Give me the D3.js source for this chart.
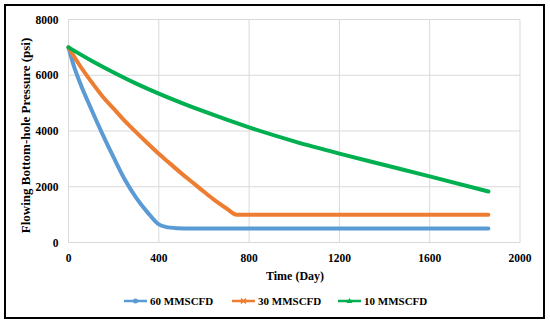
<!DOCTYPE html>
<html>
  <head>
    <style>
      body { margin: 0; background: #ffffff; }
      text { font-family: "Liberation Serif", "Times New Roman", serif; font-weight: bold; fill: #000; }
    </style>
  </head>
  <body>
    <svg id="chart"></svg>
  </body>
</html>

<script src="https://d3js.org/d3.v7.min.js"></script>

<script>
  const WIDTH = 550
  const HEIGHT = 324

  // data: [day, psi]
  const seriesNames = ['60 MMSCFD', '30 MMSCFD', '10 MMSCFD']
  const seriesColors = ['#5B9BD5', '#ED7D31', '#00B050']
  const rate60 = [[0,7000],[25,6300],[50,5750],[100,4800],[150,3900],[200,3050],[250,2250],
                  [300,1600],[350,1080],[400,650],[430,560],[480,515],[550,500],[1860,500]]
  const rate30 = [[0,7000],[50,6350],[100,5780],[150,5250],[200,4800],[250,4350],[300,3950],
                  [350,3560],[400,3180],[450,2830],[500,2480],[550,2150],[600,1820],[650,1500],
                  [700,1220],[745,1000],[1860,1000]]
  const rate10 = [[0,7000],[100,6530],[200,6100],[300,5700],[400,5340],[500,5010],[600,4700],
                  [800,4130],[1000,3630],[1200,3190],[1400,2780],[1600,2370],[1860,1830]]
  const xTicks = [0, 400, 800, 1200, 1600, 2000]
  const yTicks = [0, 2000, 4000, 6000, 8000]

  let svg = d3.select('#chart')
    .attr('width', WIDTH)
    .attr('height', HEIGHT)

  let x = d3.scaleLinear().domain([0, 2000]).range([68.5, 520])
  let y = d3.scaleLinear().domain([0, 8000]).range([242.5, 19.5])

  // outer frame
  svg.append('rect')
    .attr('x', 5).attr('y', 5)
    .attr('width', 539).attr('height', 313)
    .attr('fill', 'none')
    .attr('stroke', '#000')
    .attr('stroke-width', 2)

  // grid
  svg.selectAll('.vgrid')
    .data(xTicks)
    .enter()
    .append('line')
    .attr('x1', d => x(d)).attr('x2', d => x(d))
    .attr('y1', y(8000)).attr('y2', y(0))
    .attr('stroke', '#D9D9D9')
    .attr('stroke-width', 1)
  svg.selectAll('.hgrid')
    .data(yTicks)
    .enter()
    .append('line')
    .attr('x1', x(0)).attr('x2', x(2000))
    .attr('y1', d => y(d)).attr('y2', d => y(d))
    .attr('stroke', '#D9D9D9')
    .attr('stroke-width', 1)

  // tick labels
  svg.selectAll('.xlab')
    .data(xTicks)
    .enter()
    .append('text')
    .attr('x', d => x(d))
    .attr('y', 262)
    .attr('text-anchor', 'middle')
    .style('font-size', '11.5px')
    .text(d => d)
  svg.selectAll('.ylab')
    .data(yTicks)
    .enter()
    .append('text')
    .attr('x', 58.5)
    .attr('y', d => y(d) + 4)
    .attr('text-anchor', 'end')
    .style('font-size', '11.5px')
    .text(d => d)

  // axis titles
  svg.append('text')
    .attr('x', 295).attr('y', 279.5)
    .attr('text-anchor', 'middle')
    .style('font-size', '12px')
    .text('Time (Day)')
  svg.append('text')
    .attr('transform', 'translate(30,135.5) rotate(-90)')
    .attr('text-anchor', 'middle')
    .style('font-size', '13px')
    .text('Flowing Bottom-hole Pressure (psi)')

  // curves
  let line = d3.line()
    .x(d => x(d[0]))
    .y(d => y(d[1]))
    .curve(d3.curveMonotoneX)

  let allSeries = [rate60, rate30, rate10]
  allSeries.forEach(function(s, i) {
    svg.append('path')
      .datum(s)
      .attr('d', line)
      .attr('fill', 'none')
      .attr('stroke', seriesColors[i])
      .attr('stroke-width', 4)
      .attr('stroke-linejoin', 'round')
      .attr('stroke-linecap', 'round')
  })

  // legend
  const legendX = [124, 232, 338]
  seriesNames.forEach(function(name, i) {
    let lx = legendX[i]
    let g = svg.append('g')
    g.append('line')
      .attr('x1', lx).attr('x2', lx + 23)
      .attr('y1', 301).attr('y2', 301)
      .attr('stroke', seriesColors[i])
      .attr('stroke-width', 2.5)
    let cx = lx + 11.5
    if (i == 0) {
      g.append('circle')
        .attr('cx', cx).attr('cy', 301).attr('r', 2.5)
        .attr('fill', seriesColors[i])
    } else if (i == 1) {
      g.append('path')
        .attr('d', `M${cx-2.5},298.5L${cx+2.5},303.5M${cx-2.5},303.5L${cx+2.5},298.5`)
        .attr('stroke', seriesColors[i])
        .attr('stroke-width', 1.5)
    } else {
      g.append('path')
        .attr('d', `M${cx},298L${cx+3},303L${cx-3},303Z`)
        .attr('fill', seriesColors[i])
    }
    g.append('text')
      .attr('x', lx + 26).attr('y', 305)
      .style('font-size', '11px')
      .text(name)
  })
</script>
